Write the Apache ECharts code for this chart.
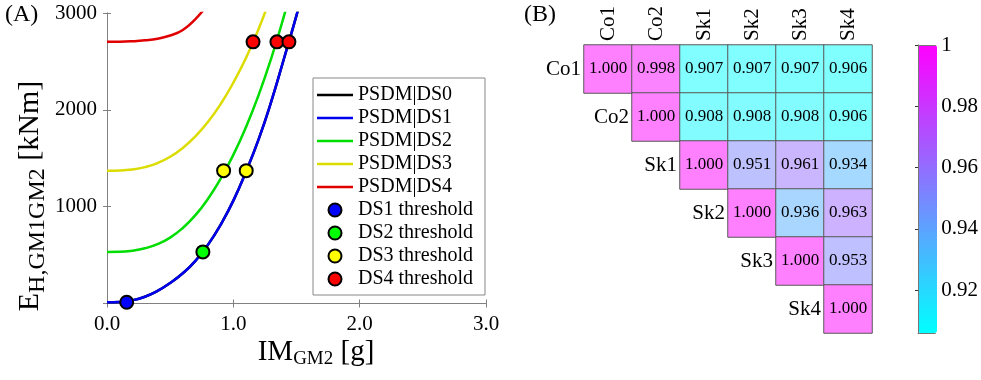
<!DOCTYPE html>
<html><head><meta charset="utf-8">
<script src="https://cdn.jsdelivr.net/npm/echarts@6/dist/echarts.min.js"></script>
<style>html,body{margin:0;padding:0;background:#fff}#c{width:981px;height:380px}</style>
</head><body><div id="c"></div>
<script>
// ---------- Panel (A) data ----------
const imGrid = [0,0.1,0.2,0.3,0.4,0.5,0.6,0.7,0.8,0.9,1.0,1.1,1.2,1.3,1.4,1.5,1.6];
const psdmDS0 = [13,16,33,70,130,212,312,440,608,815,1062,1362,1695,2085,2525,2975,3460];
const psdmDS1 = [13,16,33,70,130,212,312,440,608,815,1062,1362,1695,2085,2525,2975,3460];
const psdmDS2 = [533,534,545,570,613,680,780,912,1082,1290,1535,1822,2152,2532,2965,3450,null];
const psdmDS3 = [1372,1374,1384,1408,1450,1515,1606,1726,1876,2060,2280,2535,2835,3180,null,null,null];
const psdmDS4 = [2702,2703,2708,2718,2735,2768,2825,2938,3090,null,null,null,null,null,null,null,null];
const ds1Threshold = [[0.156,13]];
const ds2Threshold = [[0.759,533]];
const ds3Threshold = [[0.923,1372],[1.102,1372]];
const ds4Threshold = [[1.156,2702],[1.345,2702],[1.440,2702]];
const lineNames = ['PSDM|DS0','PSDM|DS1','PSDM|DS2','PSDM|DS3','PSDM|DS4'];
const thresholdNames = ['DS1 threshold','DS2 threshold','DS3 threshold','DS4 threshold'];

// ---------- Panel (B) data ----------
const cmLabels = ['Co1','Co2','Sk1','Sk2','Sk3','Sk4'];
const corrCo1 = [1.000,0.998,0.907,0.907,0.907,0.906];
const corrCo2 = [null,1.000,0.908,0.908,0.908,0.906];
const corrSk1 = [null,null,1.000,0.951,0.961,0.934];
const corrSk2 = [null,null,null,1.000,0.936,0.963];
const corrSk3 = [null,null,null,null,1.000,0.953];
const corrSk4 = [null,null,null,null,null,1.000];
const colorbarTicks = [0.92,0.94,0.96,0.98,1];
const colorMin = 0.906, colorMax = 1.0;

// ---------- build ----------
const F = 'Liberation Serif';
const AX = '#808080';
const lineColors = ['#000000','#0000ee','#00dd00','#dcdc00','#e00000'];
const markColors = ['#0000ff','#00ff00','#ffff00','#ff0000'];
const lineData = [psdmDS0,psdmDS1,psdmDS2,psdmDS3,psdmDS4];
const thrData = [ds1Threshold,ds2Threshold,ds3Threshold,ds4Threshold];

const series = [];
lineData.forEach((arr,k)=>{
  series.push({
    name: lineNames[k], type:'line', xAxisIndex:0, yAxisIndex:0,
    data: arr.map((v,i)=>[imGrid[i], v]),
    smooth: true, symbol:'none', clip:true,
    lineStyle:{color:lineColors[k], width:2.5},
    itemStyle:{color:lineColors[k]}, z:2
  });
});
thrData.forEach((arr,k)=>{
  series.push({
    name: thresholdNames[k], type:'scatter', xAxisIndex:0, yAxisIndex:0,
    data: arr, symbol:'circle', symbolSize:13, clip:false,
    itemStyle:{color:markColors[k], borderColor:'#000', borderWidth:2, opacity:1}, z:5
  });
});

const rows = [corrCo1,corrCo2,corrSk1,corrSk2,corrSk3,corrSk4];
const heatData = [];
rows.forEach((row,r)=>row.forEach((v,c)=>{ if(v!==null) heatData.push([c,r,v]); }));
const heatIdx = series.length;
series.push({
  type:'heatmap', xAxisIndex:1, yAxisIndex:1, data:heatData,
  itemStyle:{borderColor:'#5a5a5a', borderWidth:1},
  label:{show:true, fontFamily:F, fontSize:17, color:'#000', formatter:p=>p.value[2].toFixed(3)},
  emphasis:{disabled:true}
});
series.push({
  type:'scatter', xAxisIndex:1, yAxisIndex:1, silent:true,
  data: cmLabels.map((n,i)=>[i,i,n]),
  symbol:'rect', symbolSize:48, itemStyle:{color:'#fff', opacity:0},
  label:{show:true, position:'left', distance:3, fontFamily:F, fontSize:21, color:'#000', opacity:1, formatter:p=>p.value[2]},
  emphasis:{disabled:true},
  z:6
});

const font = {fontFamily:F, fontSize:21, color:'#000'};
const boxAxis = (extra)=>Object.assign({
  axisLine:{show:true, lineStyle:{color:AX, width:1}},
  axisTick:{show:true, inside:true, length:4, lineStyle:{color:AX}},
  splitLine:{show:false}
}, extra);

const lineIcon = 'path://M0,0H36V2.5H0Z';
const option = {
  animation:false,
  backgroundColor:'#fff',
  grid:[
    {left:107, top:13, width:379, height:290.5},
    {left:584, top:45, width:288, height:288},
    {left:918, top:45, width:19, height:288}
  ],
  xAxis:[
    boxAxis({type:'value', gridIndex:0, position:'bottom', min:0, max:3, interval:1,
      axisLabel:Object.assign({margin:10, formatter:v=>v.toFixed(1)}, font)}),
    {type:'category', gridIndex:1, position:'top', data:cmLabels,
      axisLine:{show:false}, axisTick:{show:false}, splitLine:{show:false},
      axisLabel:Object.assign({rotate:-90, margin:4, interval:0}, font)},
    boxAxis({type:'value', gridIndex:0, position:'top', min:0, max:3, interval:1, axisLabel:{show:false}}),
    {type:'value', gridIndex:2, position:'bottom', min:0, max:1, z:10,
      axisLine:{show:true, lineStyle:{color:'#777'}}, axisTick:{show:false}, axisLabel:{show:false}, splitLine:{show:false}},
    {type:'value', gridIndex:2, position:'top', min:0, max:1, z:10,
      axisLine:{show:true, lineStyle:{color:'#777'}}, axisTick:{show:false}, axisLabel:{show:false}, splitLine:{show:false}}
  ],
  yAxis:[
    boxAxis({type:'value', gridIndex:0, position:'left', min:0, max:3000, interval:1000,
      axisLabel:Object.assign({margin:10, formatter:v=>v===0?'':String(v)}, font)}),
    {type:'category', gridIndex:1, data:cmLabels, inverse:true, show:false},
    boxAxis({type:'value', gridIndex:0, position:'right', min:0, max:3000, interval:1000, axisLabel:{show:false}}),
    {type:'value', gridIndex:2, position:'right', min:colorMin, max:colorMax, z:10,
      axisLine:{show:true, lineStyle:{color:'#777'}},
      axisTick:{show:true, inside:true, length:3, customValues:colorbarTicks, lineStyle:{color:'#333'}},
      axisLabel:Object.assign({margin:6, customValues:colorbarTicks, formatter:v=>String(+(+v).toFixed(2))}, font),
      splitLine:{show:false}},
    {type:'value', gridIndex:2, position:'left', min:colorMin, max:colorMax, z:10,
      axisLine:{show:true, lineStyle:{color:'#777'}}, axisTick:{show:false}, axisLabel:{show:false}, splitLine:{show:false}}
  ],
  visualMap:{
    type:'continuous', min:colorMin, max:colorMax, seriesIndex:heatIdx,
    calculable:false, orient:'vertical', left:918, top:45, itemWidth:19, itemHeight:288,
    padding:0, text:null, showLabel:false, hoverLink:false,
    inRange:{color:['#80ffff','#ff80ff']},
    controller:{inRange:{color:['#00ffff','#ff00ff']}}
  },
  legend:{
    data: lineNames.map(n=>({name:n, icon:lineIcon})).concat(thresholdNames.map(n=>({name:n, icon:'circle'}))),
    orient:'vertical', left:313, top:78,
    padding:[7,12,6,4], itemWidth:36, itemHeight:13, itemGap:3,
    backgroundColor:'#fff', borderColor:'#888', borderWidth:1, borderRadius:0,
    textStyle:{fontFamily:F, fontSize:20, color:'#000'}, selectedMode:false
  },
  graphic:[
    {type:'text', left:5, top:3, style:{text:'(A)', fontFamily:F, fontSize:24, fill:'#000'}},
    {type:'text', left:524, top:3, style:{text:'(B)', fontFamily:F, fontSize:24, fill:'#000'}},
    {type:'text', x:30, y:196, rotation:Math.PI/2,
      style:{text:'{m|E}{s|H,GM1GM2}{m| [kNm]}', align:'center', verticalAlign:'middle',
        rich:{m:{fontFamily:F, fontSize:30, fill:'#000'}, s:{fontFamily:F, fontSize:24, fill:'#000', padding:[16,0,0,0]}}}},
    {type:'text', x:316, y:352,
      style:{text:'{m|IM}{s|GM2}{m| [g]}', align:'center', verticalAlign:'middle',
        rich:{m:{fontFamily:F, fontSize:29, fill:'#000'}, s:{fontFamily:F, fontSize:19, fill:'#000', padding:[15,0,0,0]}}}}
  ],
  series: series
};
const chart = echarts.init(document.getElementById('c'), null, {renderer:'canvas'});
chart.setOption(option);
</script></body></html>
